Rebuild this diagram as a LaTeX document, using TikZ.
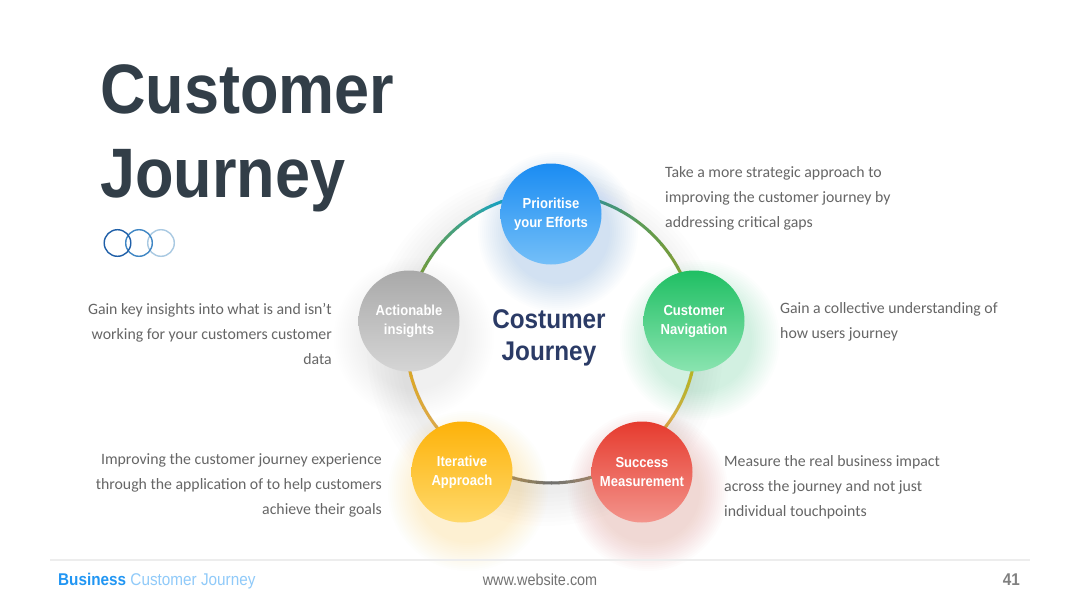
\documentclass[tikz,border=0pt]{standalone}
\usepackage{fontspec}
\setmainfont{Carlito}
\newfontfamily\rob[FakeStretch=0.9]{Liberation Sans}
\usetikzlibrary{calc}
\definecolor{titlec}{HTML}{323E48}
\definecolor{navy}{HTML}{2B3B66}
\definecolor{desc}{HTML}{666666}
\definecolor{blueA}{HTML}{1A8CF2}
\definecolor{blueB}{HTML}{74BFF8}
\definecolor{greenA}{HTML}{1FBF63}
\definecolor{greenB}{HTML}{8AE4B0}
\definecolor{redA}{HTML}{E63B2E}
\definecolor{redB}{HTML}{F3948C}
\definecolor{yelA}{HTML}{FDB20A}
\definecolor{yelB}{HTML}{FFD96A}
\definecolor{grayA}{HTML}{A9A9A9}
\definecolor{grayB}{HTML}{D5D5D5}
\definecolor{rTeal}{HTML}{1EA8C0}
\definecolor{rOlive}{HTML}{6A9A42}
\definecolor{rOrange}{HTML}{EDA925}
\definecolor{rTan}{HTML}{C4A872}
\definecolor{rGray}{HTML}{6E6E6E}
\definecolor{rYellow}{HTML}{E3B424}
\definecolor{icA}{HTML}{1F5FA8}
\definecolor{icB}{HTML}{3F86C4}
\definecolor{icC}{HTML}{A9C9E2}
\definecolor{footB}{HTML}{2196F3}
\definecolor{footL}{HTML}{90CAF9}
\newcommand{\myglow}[4]{%
  \foreach \r in {52,54,...,80}{%
    \fill[#3, opacity=#4] (#1,#2) circle (\r);}}
\newcommand{\ringseg}[4]{%
  \foreach \k in {0,...,9}{%
    \pgfmathsetmacro\aa{#1+(#2-#1)*\k/10}%
    \pgfmathsetmacro\bb{#1+(#2-#1)*(\k+1)/10+0.4}%
    \pgfmathtruncatemacro\pp{\k*10+5}%
    \draw[ring, draw={#4!\pp!#3}] ($(ringc)+(\aa:145)$) arc[start angle=\aa, end angle=\bb, radius=145];}}
\tikzset{
  ring/.style={line width=3pt},
  bub/.style={circle, minimum size=101pt, inner sep=0pt, text=white, align=center,
    font=\rob\bfseries\fontsize{14.5}{19}\selectfont, shading angle=45},
  descl/.style={inner sep=0pt, text=desc, align=left, anchor=west, font=\fontsize{15.8}{25}\selectfont},
  descr/.style={inner sep=0pt, text=desc, align=right, anchor=east, font=\fontsize{15.8}{25}\selectfont},
  ttl/.style={inner sep=0pt, anchor=base west, text=titlec, font=\rob\bfseries\fontsize{70}{84}\selectfont},
  icon/.style={line width=1.4pt}
}
\begin{document}
\begin{tikzpicture}[x=1pt,y=1pt]
\useasboundingbox (0,0) rectangle (1080,-608);
\fill[white] (0,0) rectangle (1080,-608);
\coordinate (ringc) at (551,-338);
% soft shadow behind the ring area
\foreach \r in {146,150,...,178}{\fill[black, opacity=0.007] (545,-348) circle (\r);}
\fill[white] (ringc) circle (143);
% title
\node[ttl] (t1) at (100,-113) {Customer};
\node[ttl] (t2) at (100,-197) {Journey};
% icon circles
\draw[icon, icC] (161,-243) coordinate (ic3) circle (13.3);
\draw[icon, icB] (139,-243) coordinate (ic2) circle (13.3);
\draw[icon, icA] (117.5,-243) coordinate (ic1) circle (13.3);
% ring
\ringseg{40}{110}{rOlive}{rTeal}
\ringseg{110}{150}{rTeal}{rOlive}
\ringseg{150}{195}{rOlive}{rOrange}
\ringseg{195}{240}{rOrange}{rTan}
\ringseg{240}{270}{rTan}{rGray}
\ringseg{270}{300}{rGray}{rTan}
\ringseg{300}{345}{rTan}{rYellow}
\ringseg{345}{400}{rYellow}{rOlive}
% glows
\myglow{558}{-232}{blueA}{0.013}
\myglow{700}{-340}{greenA}{0.013}
\myglow{648}{-491}{redA}{0.012}
\myglow{468}{-491}{yelA}{0.013}
\myglow{414}{-338}{grayA}{0.009}
% bubbles
\node[bub, top color=blueA, bottom color=blueB] (prio) at (551,-214) {Prioritise\\your Efforts};
\node[bub, top color=greenA, bottom color=greenB] (nav) at (694,-321) {Customer\\Navigation};
\node[bub, top color=redA, bottom color=redB] (succ) at (642,-472) {Success\\Measurement};
\node[bub, top color=yelA, bottom color=yelB] (iter) at (462,-472) {Iterative\\Approach};
\node[bub, top color=grayA, bottom color=grayB] (act) at (409,-321) {Actionable\\insights};
% centre
\node[inner sep=0pt, text=navy, align=center, font=\rob\bfseries\fontsize{27}{32}\selectfont] (centre) at (549,-338) {Costumer\\Journey};
% descriptions
\node[descl] (d1) at (665,-198) {Take a more strategic approach to\\improving the customer journey by\\addressing critical gaps};
\node[descl] (d2) at (780,-321.5) {Gain a collective understanding of\\how users journey};
\node[descl] (d3) at (724,-487) {Measure the real business impact\\across the journey and not just\\individual touchpoints};
\node[descr] (d4) at (332,-334) {Gain key insights into what is and isn’t\\working for your customers customer\\data};
\node[descr] (d5) at (382,-485) {Improving the customer journey experience\\through the application of to help customers\\achieve their goals};
% footer
\draw[line width=1.5pt, black!7] (50,-560) coordinate (fl) -- (1030,-560) coordinate (fr);
\node[inner sep=0pt, anchor=base west, font=\rob\fontsize{17}{18}\selectfont] (f1) at (58,-585) {\textcolor{footB}{\bfseries Business} \textcolor{footL}{Customer Journey}};
\node[inner sep=0pt, anchor=base, text=black!55, font=\rob\fontsize{16}{18}\selectfont] (f2) at (540,-585) {www.website.com};
\node[inner sep=0pt, anchor=base east, text=black!50, font=\rob\bfseries\fontsize{17}{18}\selectfont] (f3) at (1020,-585) {41};
\end{tikzpicture}
\end{document}
